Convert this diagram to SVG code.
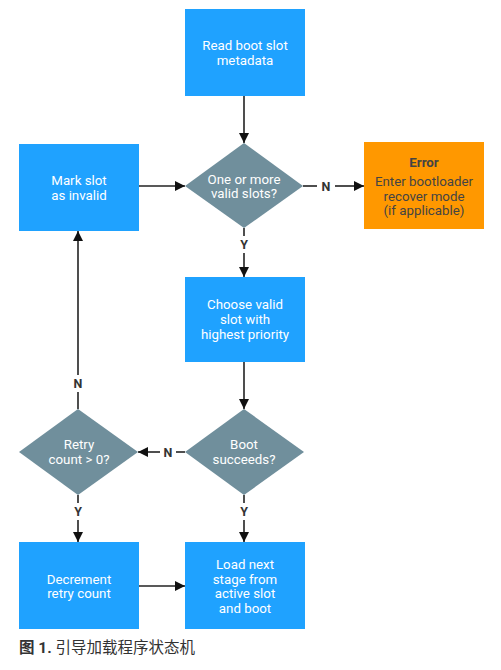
<svg xmlns="http://www.w3.org/2000/svg" width="501" height="670" viewBox="0 0 501 670">
<defs>
<marker id="ah" viewBox="0 0 10 10" refX="10" refY="5" markerWidth="10" markerHeight="10" markerUnits="userSpaceOnUse" orient="auto">
<path d="M0,0 L10,5 L0,10 z" fill="#111"/>
</marker>
<style>
.box{fill:#1fa2ff}
.dia{fill:#708f9c}
.err{fill:#ff9800}
.t{font-family:Roboto,"Noto Sans",sans-serif;font-size:13.3px;fill:#fff;text-anchor:middle}
.te{font-family:Roboto,"Noto Sans",sans-serif;font-size:13.3px;fill:#444;text-anchor:middle}
.lbl{font-family:Roboto,"Noto Sans",sans-serif;font-size:12.5px;font-weight:bold;fill:#333;text-anchor:middle}
.ln{stroke:#222;stroke-width:1.6;fill:none}
.arr{stroke:#222;stroke-width:1.6;fill:none;marker-end:url(#ah)}
</style>
</defs>
<rect width="501" height="670" fill="#fff"/>
<g id="connectors">
<line class="arr" x1="244" y1="96" x2="244" y2="143"/>
<line class="arr" x1="139" y1="186" x2="185" y2="186"/>
<line class="ln" x1="303" y1="186" x2="317" y2="186"/>
<line class="arr" x1="335" y1="186" x2="364" y2="186"/>
<text class="lbl" x="326" y="190.5">N</text>
<line class="ln" x1="244" y1="228" x2="244" y2="236"/>
<line class="arr" x1="244" y1="253" x2="244" y2="277"/>
<text class="lbl" x="244" y="249">Y</text>
<line class="arr" x1="244" y1="362" x2="244" y2="409"/>
<line class="ln" x1="244" y1="495" x2="244" y2="503"/>
<line class="arr" x1="244" y1="520" x2="244" y2="542"/>
<text class="lbl" x="244" y="516">Y</text>
<line class="ln" x1="185" y1="452" x2="176" y2="452"/>
<line class="arr" x1="160" y1="452" x2="138" y2="452"/>
<text class="lbl" x="168" y="456.5">N</text>
<line class="ln" x1="78" y1="409" x2="78" y2="392"/>
<line class="arr" x1="78" y1="375" x2="78" y2="231"/>
<text class="lbl" x="78" y="388">N</text>
<line class="ln" x1="78" y1="495" x2="78" y2="503"/>
<line class="arr" x1="78" y1="520" x2="78" y2="542"/>
<text class="lbl" x="78" y="516">Y</text>
<line class="arr" x1="139" y1="586" x2="185" y2="586"/>
</g>
<g id="read-meta">
<rect class="box" x="185" y="9" width="120" height="87"/>
<text class="t" x="245" y="49.5">Read boot slot</text>
<text class="t" x="245" y="65">metadata</text>
</g>
<g id="valid-slots">
<polygon class="dia" points="244,143 303,186 244,228 185,186"/>
<text class="t" x="244" y="183.5">One or more</text>
<text class="t" x="244" y="197.5">valid slots?</text>
</g>
<g id="mark-invalid">
<rect class="box" x="19" y="144" width="120" height="87"/>
<text class="t" x="79" y="185">Mark slot</text>
<text class="t" x="79" y="200">as invalid</text>
</g>
<g id="error">
<rect class="err" x="364" y="142" width="120" height="87"/>
<text class="te" x="424" y="167" font-weight="bold">Error</text>
<text class="te" x="424" y="186">Enter bootloader</text>
<text class="te" x="424" y="200.5">recover mode</text>
<text class="te" x="424" y="215">(if applicable)</text>
</g>
<g id="choose">
<rect class="box" x="185" y="277" width="120" height="85"/>
<text class="t" x="245" y="309">Choose valid</text>
<text class="t" x="245" y="324">slot with</text>
<text class="t" x="245" y="338.5">highest priority</text>
</g>
<g id="boot-succeeds">
<polygon class="dia" points="244,409 304,452 244,495 185,452"/>
<text class="t" x="244" y="448.5">Boot</text>
<text class="t" x="244" y="464">succeeds?</text>
</g>
<g id="retry">
<polygon class="dia" points="78,409 138,452 78,495 19,452"/>
<text class="t" x="79" y="448.5">Retry</text>
<text class="t" x="79" y="464">count &gt; 0?</text>
</g>
<g id="decrement">
<rect class="box" x="19" y="542" width="120" height="87"/>
<text class="t" x="79" y="583.5">Decrement</text>
<text class="t" x="79" y="598">retry count</text>
</g>
<g id="load">
<rect class="box" x="185" y="542" width="120" height="87"/>
<text class="t" x="245" y="569">Load next</text>
<text class="t" x="245" y="583.5">stage from</text>
<text class="t" x="245" y="598">active slot</text>
<text class="t" x="245" y="612.5">and boot</text>
</g>
<text x="19" y="653" font-family="Roboto,'Noto Sans CJK SC',sans-serif" font-size="15.5" fill="#333"><tspan font-weight="bold">图 1.</tspan> 引导加载程序状态机</text>
</svg>
